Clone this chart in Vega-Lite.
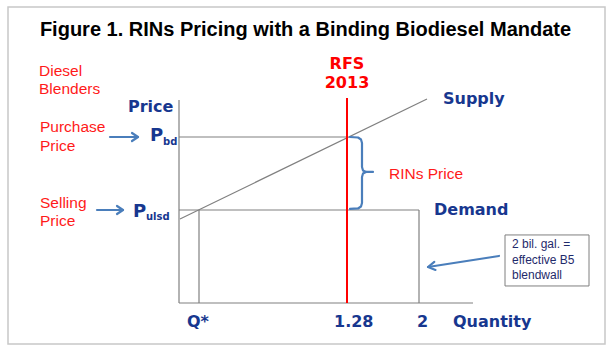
{
  "$schema": "https://vega.github.io/schema/vega-lite/v6.json",
  "width": 614,
  "height": 354,
  "padding": 0,
  "background": "white",
  "config": {"view": {"stroke": null}},
  "datasets": {
    "frame": [{"x": -2.11, "y": 3.781, "x2": 3.86, "y2": -0.836}],
    "box": [{"x": 2.86, "y": 0.658, "x2": 3.70, "y2": -0.041}],
    "segs": [
      {"name": "price axis", "x": -0.40, "y": 2.507, "x2": -0.40, "y2": -0.274},
      {"name": "quantity axis", "x": -0.40, "y": -0.274, "x2": 2.54, "y2": -0.274},
      {"name": "Pbd", "x": -0.40, "y": 2.0, "x2": 1.28, "y2": 2.0},
      {"name": "Pulsd / demand", "x": -0.40, "y": 1.0, "x2": 2.0, "y2": 1.0},
      {"name": "demand at 2", "x": 2.0, "y": 1.0, "x2": 2.0, "y2": -0.274},
      {"name": "Q*", "x": -0.20, "y": 1.0, "x2": -0.20, "y2": -0.274},
      {"name": "supply", "x": -0.39, "y": 0.877, "x2": 2.08, "y2": 2.521}
    ],
    "mandate": [{"x": 1.28, "y": 2.534, "x2": 1.28, "y2": -0.274}],
    "paths": [
      {"id": "brace", "o": 1, "x": 1.31, "y": 2.000},
      {"id": "brace", "o": 2, "x": 1.39, "y": 1.993},
      {"id": "brace", "o": 3, "x": 1.42, "y": 1.966},
      {"id": "brace", "o": 4, "x": 1.43, "y": 1.918},
      {"id": "brace", "o": 5, "x": 1.43, "y": 1.589},
      {"id": "brace", "o": 6, "x": 1.44, "y": 1.541},
      {"id": "brace", "o": 7, "x": 1.47, "y": 1.521},
      {"id": "brace", "o": 8, "x": 1.54, "y": 1.521},
      {"id": "brace", "o": 9, "x": 1.47, "y": 1.521},
      {"id": "brace", "o": 10, "x": 1.44, "y": 1.500},
      {"id": "brace", "o": 11, "x": 1.43, "y": 1.452},
      {"id": "brace", "o": 12, "x": 1.43, "y": 1.096},
      {"id": "brace", "o": 13, "x": 1.42, "y": 1.048},
      {"id": "brace", "o": 14, "x": 1.39, "y": 1.021},
      {"id": "brace", "o": 15, "x": 1.31, "y": 1.014},
      {"id": "a1s", "o": 1, "x": -1.09, "y": 2.0},
      {"id": "a1s", "o": 2, "x": -0.81, "y": 2.0},
      {"id": "a1h", "o": 1, "x": -0.87, "y": 2.055},
      {"id": "a1h", "o": 2, "x": -0.81, "y": 2.0},
      {"id": "a1h", "o": 3, "x": -0.87, "y": 1.945},
      {"id": "a2s", "o": 1, "x": -1.22, "y": 1.0},
      {"id": "a2s", "o": 2, "x": -0.96, "y": 1.0},
      {"id": "a2h", "o": 1, "x": -1.02, "y": 1.055},
      {"id": "a2h", "o": 2, "x": -0.96, "y": 1.0},
      {"id": "a2h", "o": 3, "x": -1.02, "y": 0.945},
      {"id": "a3s", "o": 1, "x": 2.80, "y": 0.370},
      {"id": "a3s", "o": 2, "x": 2.09, "y": 0.219},
      {"id": "a3h", "o": 1, "x": 2.153, "y": 0.288},
      {"id": "a3h", "o": 2, "x": 2.09, "y": 0.219},
      {"id": "a3h", "o": 3, "x": 2.165, "y": 0.179}
    ],
    "title": [{"x": 0.865, "y": 3.384, "t": "Figure 1. RINs Pricing with a Binding Biodiesel Mandate"}],
    "redText": [
      {"x": -1.80, "y": 2.836, "t": "Diesel"},
      {"x": -1.80, "y": 2.589, "t": "Blenders"},
      {"x": -1.79, "y": 2.068, "t": "Purchase"},
      {"x": -1.79, "y": 1.808, "t": "Price"},
      {"x": -1.79, "y": 1.027, "t": "Selling"},
      {"x": -1.79, "y": 0.781, "t": "Price"},
      {"x": 1.70, "y": 1.425, "t": "RINs Price"}
    ],
    "rfs": [
      {"x": 1.28, "y": 2.932, "t": "RFS"},
      {"x": 1.28, "y": 2.671, "t": "2013"}
    ],
    "blueText": [
      {"x": -0.91, "y": 2.342, "t": "Price"},
      {"x": 2.24, "y": 2.452, "t": "Supply"},
      {"x": 2.15, "y": 0.932, "t": "Demand"},
      {"x": -0.32, "y": -0.603, "t": "Q*"},
      {"x": 1.15, "y": -0.603, "t": "1.28"},
      {"x": 1.98, "y": -0.603, "t": "2"},
      {"x": 2.34, "y": -0.603, "t": "Quantity"}
    ],
    "bigP": [
      {"x": -0.69, "y": 1.945, "t": "P"},
      {"x": -0.86, "y": 0.904, "t": "P"}
    ],
    "subs": [
      {"x": -0.56, "y": 1.890, "t": "bd"},
      {"x": -0.73, "y": 0.863, "t": "ulsd"}
    ],
    "boxText": [
      {"x": 2.93, "y": 0.479, "t": "2 bil. gal. ="},
      {"x": 2.93, "y": 0.260, "t": "effective B5"},
      {"x": 2.93, "y": 0.055, "t": "blendwall"}
    ]
  },
  "encoding": {
    "x": {"field": "x", "type": "quantitative", "scale": {"domain": [-2.19, 3.95], "nice": false, "zero": false}, "axis": null},
    "y": {"field": "y", "type": "quantitative", "scale": {"domain": [-0.973, 3.877], "nice": false, "zero": false}, "axis": null}
  },
  "layer": [
    {
      "data": {"name": "frame"},
      "mark": {"type": "rect", "fill": "white", "stroke": "#c8c8c8", "strokeWidth": 1.5},
      "encoding": {"x2": {"field": "x2"}, "y2": {"field": "y2"}}
    },
    {
      "data": {"name": "segs"},
      "mark": {"type": "rule", "color": "#808080", "strokeWidth": 1.2},
      "encoding": {"x2": {"field": "x2"}, "y2": {"field": "y2"}}
    },
    {
      "data": {"name": "mandate"},
      "mark": {"type": "rule", "color": "#ff0000", "strokeWidth": 2},
      "encoding": {"x2": {"field": "x2"}, "y2": {"field": "y2"}}
    },
    {
      "data": {"name": "box"},
      "mark": {"type": "rect", "fill": "white", "stroke": "#7f7f7f", "strokeWidth": 1},
      "encoding": {"x2": {"field": "x2"}, "y2": {"field": "y2"}}
    },
    {
      "data": {"name": "paths"},
      "mark": {"type": "line", "color": "#4a7ebb", "strokeWidth": 2.2, "strokeCap": "round", "strokeJoin": "round"},
      "encoding": {"detail": {"field": "id"}, "order": {"field": "o", "type": "quantitative"}}
    },
    {
      "data": {"name": "title"},
      "mark": {"type": "text", "font": "Liberation Sans", "fontWeight": "bold", "fontSize": 20, "color": "#000000", "align": "center", "baseline": "alphabetic"},
      "encoding": {"text": {"field": "t"}}
    },
    {
      "data": {"name": "redText"},
      "mark": {"type": "text", "font": "Liberation Sans", "fontSize": 15.5, "color": "#ff1a1a", "align": "left", "baseline": "alphabetic"},
      "encoding": {"text": {"field": "t"}}
    },
    {
      "data": {"name": "rfs"},
      "mark": {"type": "text", "font": "DejaVu Sans", "fontWeight": "bold", "fontSize": 16, "color": "#ff0000", "align": "center", "baseline": "alphabetic"},
      "encoding": {"text": {"field": "t"}}
    },
    {
      "data": {"name": "blueText"},
      "mark": {"type": "text", "font": "DejaVu Sans", "fontWeight": "bold", "fontSize": 16, "color": "#17378f", "align": "left", "baseline": "alphabetic"},
      "encoding": {"text": {"field": "t"}}
    },
    {
      "data": {"name": "bigP"},
      "mark": {"type": "text", "font": "DejaVu Sans", "fontWeight": "bold", "fontSize": 18, "color": "#17378f", "align": "left", "baseline": "alphabetic"},
      "encoding": {"text": {"field": "t"}}
    },
    {
      "data": {"name": "subs"},
      "mark": {"type": "text", "font": "DejaVu Sans", "fontWeight": "bold", "fontSize": 10, "color": "#17378f", "align": "left", "baseline": "alphabetic"},
      "encoding": {"text": {"field": "t"}}
    },
    {
      "data": {"name": "boxText"},
      "mark": {"type": "text", "font": "Liberation Sans", "fontSize": 12, "color": "#1f2a6b", "align": "left", "baseline": "alphabetic"},
      "encoding": {"text": {"field": "t"}}
    }
  ]
}
